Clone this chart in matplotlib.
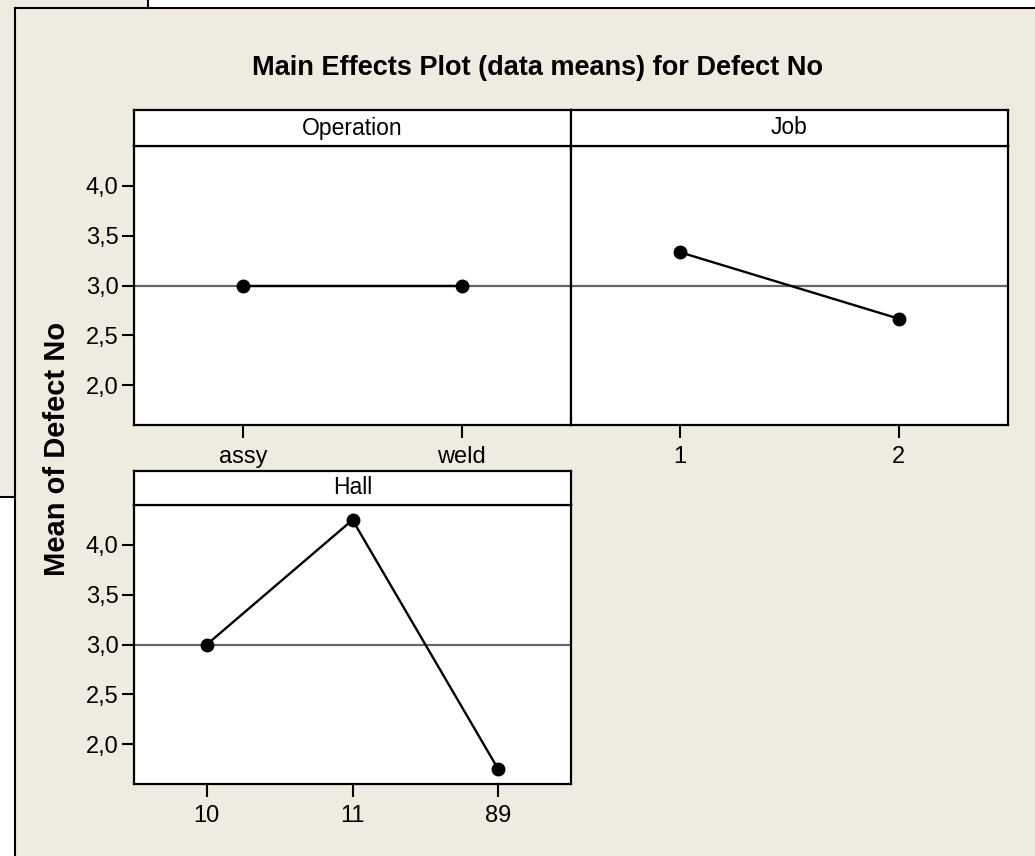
import matplotlib
matplotlib.use("Agg")
import matplotlib.pyplot as plt
from matplotlib import font_manager as fm
from matplotlib.patches import Rectangle
from matplotlib.lines import Line2D
from matplotlib.ticker import FuncFormatter

# data means for Defect No
op_levels = ["assy", "weld"]
op_means = [3.0, 3.0]
job_levels = ["1", "2"]
job_means = [3.333, 2.667]
hall_levels = ["10", "11", "89"]
hall_means = [3.0, 4.25, 1.75]
grand_mean = 3.0
yticks = [2.0, 2.5, 3.0, 3.5, 4.0]

W, H = 1035, 856
BG = "#efebe1"

names = {f.name for f in fm.fontManager.ttflist}
if "Liberation Sans Narrow" in names:
    narrow, title_fs, strip_fs = "Liberation Sans Narrow", 23.5, 18.5
else:
    narrow, title_fs, strip_fs = "Liberation Sans", 19.5, 16.5
plt.rcParams["font.family"] = ["Liberation Sans", "DejaVu Sans"]

fig = plt.figure(figsize=(W / 100, H / 100), dpi=100, facecolor="white")


def box(x0, y0, x1, y1):
    # pixel box (top-left origin) -> figure fraction [left, bottom, w, h]
    return [x0 / W, 1 - y1 / H, (x1 - x0) / W, (y1 - y0) / H]


def fline(xs, ys):
    fig.add_artist(Line2D([x / W for x in xs], [1 - y / H for y in ys],
                          transform=fig.transFigure, color="black", lw=1.5,
                          zorder=-5))


# window backgrounds from the screenshot
l, b, w, h = box(0, 0, 148, 497)
fig.add_artist(Rectangle((l, b), w, h, transform=fig.transFigure,
                         facecolor=BG, edgecolor="none", zorder=-10))
l, b, w, h = box(15, 8, W, H)
fig.add_artist(Rectangle((l, b), w, h, transform=fig.transFigure,
                         facecolor=BG, edgecolor="none", zorder=-10))
fline([148, 148], [0, 8])
fline([0, 15], [497, 497])
fline([15, W], [8, 8])
fline([15, 15], [8, H])

fmt = FuncFormatter(lambda v, p: f"{v:.1f}".replace(".", ","))


def panel(x0, y0, x1, y1, strip_h, title, levels, means, show_y):
    ax = fig.add_axes(box(x0, y0 + strip_h, x1, y1))
    n = len(levels)
    xs = list(range(n))
    ax.axhline(grand_mean, color="#666666", lw=1.6, zorder=1)
    ax.plot(xs, means, color="black", lw=1.7, marker="o", markersize=9,
            zorder=3)
    ax.set_xlim(-0.5, n - 0.5)
    ax.set_ylim(1.6, 4.4)
    ax.set_xticks(xs)
    ax.set_xticklabels(levels)
    ax.set_yticks(yticks)
    ax.yaxis.set_major_formatter(fmt)
    ax.tick_params(axis="both", labelsize=17, length=9, width=1.5,
                   direction="out")
    ax.tick_params(axis="y", pad=2)
    ax.tick_params(axis="x", pad=6)
    if not show_y:
        ax.tick_params(axis="y", left=False, labelleft=False)
    for s in ax.spines.values():
        s.set_linewidth(1.6)
    sax = fig.add_axes(box(x0, y0, x1, y0 + strip_h))
    sax.set_xticks([])
    sax.set_yticks([])
    for s in sax.spines.values():
        s.set_linewidth(1.6)
    sax.text(0.5, 0.5, title, ha="center", va="center", family=narrow,
             fontsize=strip_fs, transform=sax.transAxes)
    return ax


panel(134, 110, 571, 425, 36, "Operation", op_levels, op_means, True)
panel(571, 110, 1008, 425, 36, "Job", job_levels, job_means, False)
panel(134, 471, 571, 784, 34, "Hall", hall_levels, hall_means, True)

fig.text(537 / W, 1 - 68 / H, "Main Effects Plot (data means) for Defect No",
         ha="center", va="center", family=narrow, fontweight="bold",
         fontsize=title_fs)
fig.text(57 / W, 1 - 449 / H, "Mean of Defect No", rotation=90,
         ha="center", va="center", fontweight="bold", fontsize=21)

fig.savefig("out.png", dpi=100, facecolor="white")
